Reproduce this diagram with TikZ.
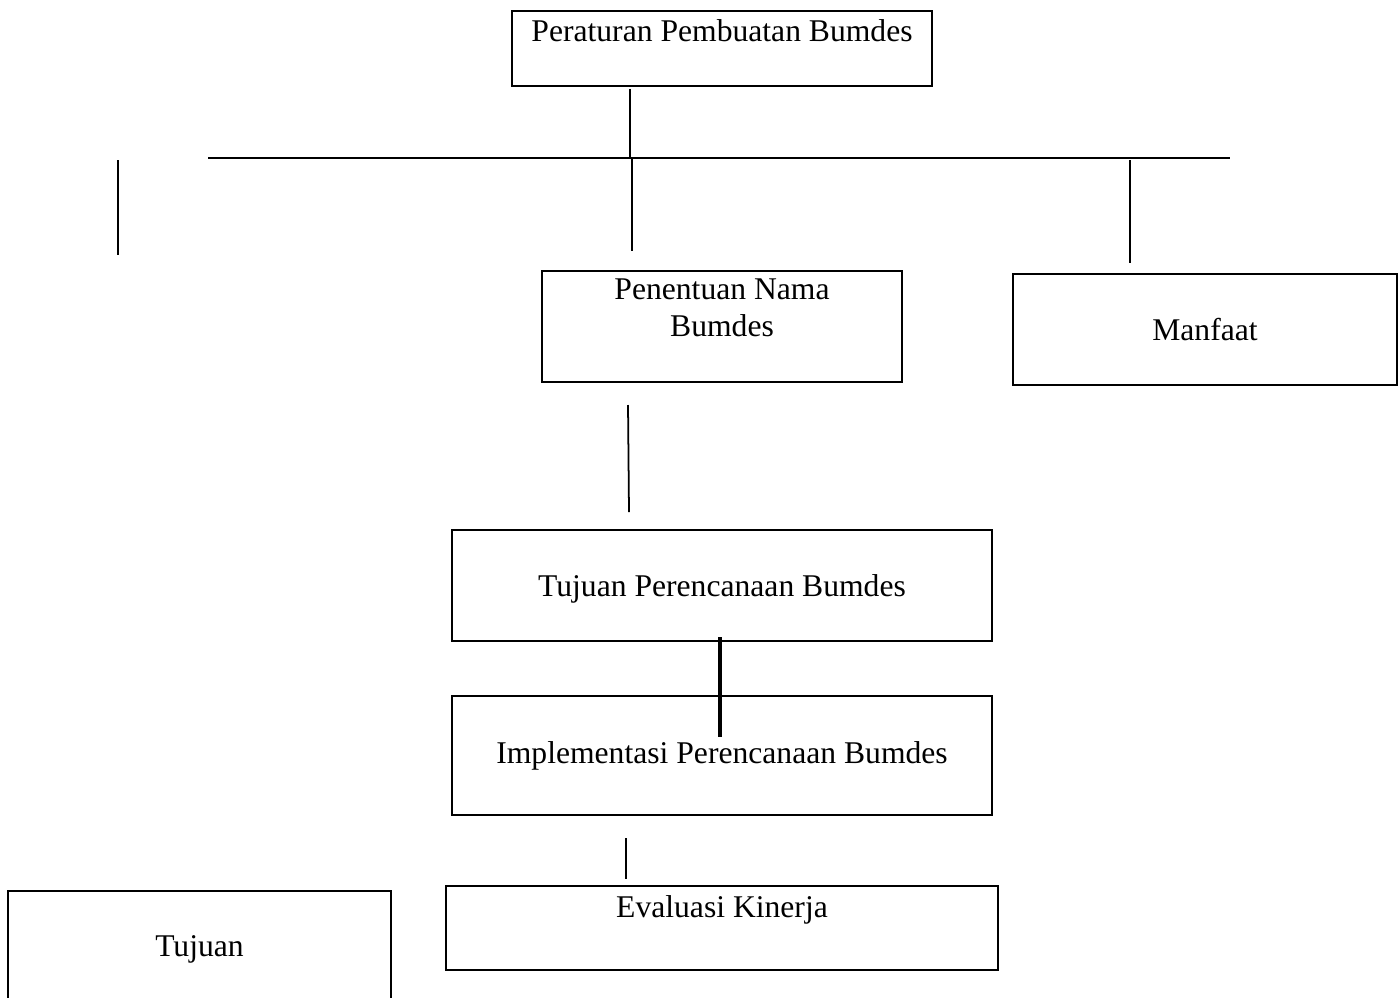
\documentclass[tikz,border=0pt]{standalone}
\usepackage{fontspec}
\setmainfont{Liberation Serif}
\usetikzlibrary{positioning}

\begin{document}
\begin{tikzpicture}[
    x=0.02cm,
    y=-0.02cm,
    planbox/.style={
        draw,
        rectangle,
        line width=1.4pt,
        inner sep=0pt,
        align=center,
        font=\fontsize{18}{21}\selectfont
    },
    flatbox/.style={
        planbox,
        text depth=0pt
    },
    link/.style={
        line width=1pt
    },
    boldlink/.style={
        line width=2.1pt
    }
]
    \useasboundingbox (0,0) rectangle (1398,997);

    % Boxes
    \node[planbox, minimum width=8.4cm, minimum height=1.5cm] (peraturan) at (722,48.5) {Peraturan Pembuatan Bumdes\\\mbox{}};
    \node[planbox, minimum width=7.2cm, minimum height=2.22cm] (penentuan) at (722,326.5) {Penentuan Nama\\Bumdes\\\mbox{}};
    \node[planbox, minimum width=7.68cm, minimum height=2.22cm] (manfaat) at (1205,329.5) {Manfaat};
    \node[flatbox, minimum width=10.8cm, minimum height=2.22cm] (tujuanplan) at (722,585.5) {Tujuan Perencanaan Bumdes};
    \node[planbox, minimum width=10.8cm, minimum height=2.38cm] (implementasi) at (722,755.5) {Implementasi Perencanaan Bumdes};
    \node[planbox, minimum width=11.04cm, minimum height=1.68cm, text depth=3pt] (evaluasi) at (722,928) {Evaluasi Kinerja\\\mbox{}};
    \node[flatbox, minimum width=7.66cm, minimum height=2.22cm] (tujuan) at (199.5,946.5) {Tujuan};

    % Line ends
    \coordinate (top1) at (630,89);
    \coordinate (top2) at (630,158);
    \coordinate (barL) at (208,158);
    \coordinate (barR) at (1230,158);
    \coordinate (farL1) at (118,160);
    \coordinate (farL2) at (118,255);
    \coordinate (mid1) at (632,158);
    \coordinate (mid2) at (632,251);
    \coordinate (right1) at (1130,160);
    \coordinate (right2) at (1130,263);
    \coordinate (low1) at (628,405);
    \coordinate (low2) at (629,512);
    \coordinate (bold1) at (720,637);
    \coordinate (bold2) at (720,737);
    \coordinate (eval1) at (626,838);
    \coordinate (eval2) at (626,879);

    % Lines
    \draw[link] (top1) -- (top2);
    \draw[link] (barL) -- (barR);
    \draw[link] (farL1) -- (farL2);
    \draw[link] (mid1) -- (mid2);
    \draw[link] (right1) -- (right2);
    \draw[link] (low1) -- (low2);
    \draw[boldlink] (bold1) -- (bold2);
    \draw[link] (eval1) -- (eval2);

\end{tikzpicture}
\end{document}
